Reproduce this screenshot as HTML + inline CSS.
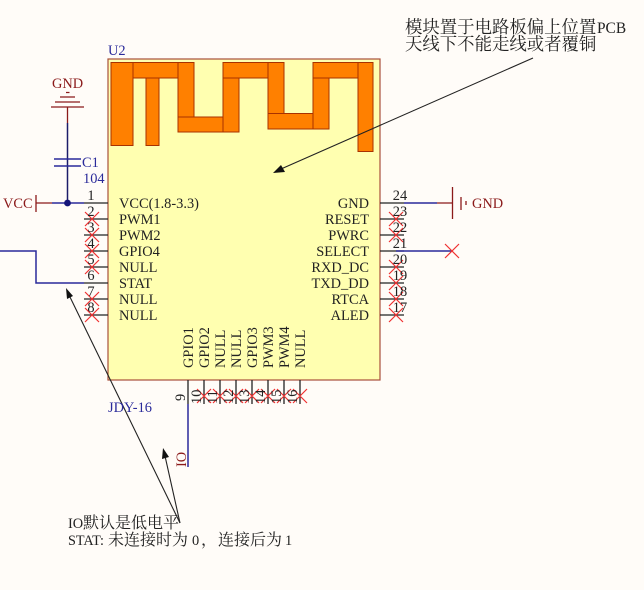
<!DOCTYPE html>
<html><head><meta charset="utf-8"><style>
html,body{margin:0;padding:0;background:#fffcf8}
svg{display:block}
text{font-family:"Liberation Serif","Noto Serif CJK SC",serif;font-size:14.4px;fill:#222}
.b{fill:#2a2a9a}.r{fill:#8b1a1a}
.a rect{fill:#ff8000;stroke:#a83200;stroke-width:1}
.p{stroke:#222;stroke-width:1.3}
.x{stroke:#f03030;stroke-width:1.2;fill:none}
</style></head><body>
<svg width="644" height="590" viewBox="0 0 644 590" xmlns="http://www.w3.org/2000/svg">
<rect width="644" height="590" fill="#fffcf8"/>
<rect x="108" y="59" width="272" height="321" fill="#ffffb0" stroke="#a8503c" stroke-width="1.2"/>
<g class="a">
<rect x="111" y="62.500" width="22" height="83"/>
<rect x="133" y="62.500" width="45" height="15.500"/>
<rect x="146" y="78" width="13" height="67.500"/>
<rect x="178" y="62.500" width="16" height="69.500"/>
<rect x="178" y="117" width="45" height="15"/>
<rect x="223" y="62.500" width="16" height="69.500"/>
<rect x="223" y="62.500" width="45" height="15.500"/>
<rect x="268" y="62.500" width="16" height="66.500"/>
<rect x="268" y="113.500" width="45" height="15.500"/>
<rect x="313" y="78" width="16" height="51"/>
<rect x="313" y="62.500" width="45" height="15.500"/>
<rect x="358" y="62.500" width="15" height="89"/>
</g>
<g class="p">
<path d="M84 203H108M84 219H108M84 235H108M84 251H108M84 267H108M84 283H108M84 299H108M84 315H108" fill="none"/>
<path d="M380 203H404M380 219H404M380 235H404M380 251H404M380 267H404M380 283H404M380 299H404M380 315H404" fill="none"/>
<path d="M188 380V404M204 380V404M220 380V404M236 380V404M252 380V404M268 380V404M284 380V404M300 380V404" fill="none"/>
</g>
<g fill="none" stroke="#2a2a9a" stroke-width="1.500">
<path d="M52 203H84"/>
<path d="M0 251H36V283H84"/>
<path d="M188 404V467"/>
<path d="M404 203H437"/>
<path d="M396 251H452"/>
</g>
<path d="M67.500 123V203" stroke="#1c1c6a" stroke-width="1.500" fill="none"/>
<path d="M67.500 107V123" stroke="#8b1a1a" stroke-width="1.300" fill="none"/>
<path d="M54 159H81M54 166H81" stroke="#2a2a9a" stroke-width="1.500" fill="none"/>
<circle cx="67.500" cy="203" r="3.400" fill="#14147a"/>
<g stroke="#8b1a1a" stroke-width="1.300" fill="none">
<path d="M51 107H84M55 102H80M60 97H75M66 92.500H69.500"/>
<path d="M36 195V212M36 203H52"/>
<path d="M437 203H452.500M452.500 187V219M461 197V210M466 201V205"/>
</g>
<g class="x">
<path d="M85 212l14 14M99 212l-14 14M85 228l14 14M99 228l-14 14M85 244l14 14M99 244l-14 14M85 260l14 14M99 260l-14 14M85 292l14 14M99 292l-14 14M85 308l14 14M99 308l-14 14"/>
<path d="M389 212l14 14M403 212l-14 14M389 228l14 14M403 228l-14 14M389 260l14 14M403 260l-14 14M389 276l14 14M403 276l-14 14M389 292l14 14M403 292l-14 14M389 308l14 14M403 308l-14 14"/>
<path d="M445 244l14 14M459 244l-14 14"/>
<path d="M197 389l14 14M211 389l-14 14M213 389l14 14M227 389l-14 14M229 389l14 14M243 389l-14 14M245 389l14 14M259 389l-14 14M261 389l14 14M275 389l-14 14M277 389l14 14M291 389l-14 14M293 389l14 14M307 389l-14 14"/>
</g>
<g stroke="#222" stroke-width="1.100" fill="none">
<path d="M180 523L69 295"/>
<path d="M180 523L165 456"/>
<path d="M533 58L281 169"/>
</g>
<polygon points="66,288 73,296 67,299" fill="#111"/>
<polygon points="163,448 169,457 162,459" fill="#111"/>
<polygon points="273,173 281,165 285,172" fill="#111"/>
<text x="108" y="55" class="b">U2</text>
<text x="52" y="88" class="r">GND</text>
<text x="82" y="167" class="b">C1</text>
<text x="83" y="183" class="b">104</text>
<text x="3" y="208" class="r">VCC</text>
<text x="472" y="208" class="r">GND</text>
<text x="108" y="412" class="b">JDY-16</text>
<g text-anchor="middle">
<text x="91" y="200">1</text><text x="91" y="216">2</text><text x="91" y="232">3</text><text x="91" y="248">4</text><text x="91" y="264">5</text><text x="91" y="280">6</text><text x="91" y="296">7</text><text x="91" y="312">8</text>
<text x="400" y="200">24</text><text x="400" y="216">23</text><text x="400" y="232">22</text><text x="400" y="248">21</text><text x="400" y="264">20</text><text x="400" y="280">19</text><text x="400" y="296">18</text><text x="400" y="312">17</text>
</g>
<text x="119" y="208">VCC(1.8-3.3)</text>
<text x="119" y="224">PWM1</text>
<text x="119" y="240">PWM2</text>
<text x="119" y="256">GPIO4</text>
<text x="119" y="272">NULL</text>
<text x="119" y="288">STAT</text>
<text x="119" y="304">NULL</text>
<text x="119" y="320">NULL</text>
<g text-anchor="end">
<text x="369" y="208">GND</text>
<text x="369" y="224">RESET</text>
<text x="369" y="240">PWRC</text>
<text x="369" y="256">SELECT</text>
<text x="369" y="272">RXD_DC</text>
<text x="369" y="288">TXD_DD</text>
<text x="369" y="304">RTCA</text>
<text x="369" y="320">ALED</text>
</g>
<g>
<text transform="translate(193,368) rotate(-90)">GPIO1</text>
<text transform="translate(209,368) rotate(-90)">GPIO2</text>
<text transform="translate(225,368) rotate(-90)">NULL</text>
<text transform="translate(241,368) rotate(-90)">NULL</text>
<text transform="translate(257,368) rotate(-90)">GPIO3</text>
<text transform="translate(273,368) rotate(-90)">PWM3</text>
<text transform="translate(289,368) rotate(-90)">PWM4</text>
<text transform="translate(305,368) rotate(-90)">NULL</text>
<text transform="translate(185,401) rotate(-90)">9</text>
<text transform="translate(201,404) rotate(-90)">10</text>
<text transform="translate(217,404) rotate(-90)">11</text>
<text transform="translate(233,404) rotate(-90)">12</text>
<text transform="translate(249,404) rotate(-90)">13</text>
<text transform="translate(265,404) rotate(-90)">14</text>
<text transform="translate(281,404) rotate(-90)">15</text>
<text transform="translate(297,404) rotate(-90)">16</text>
<text class="r" transform="translate(186,467) rotate(-90)">IO</text>
</g>
<text x="405" y="33" style="font-size:17.400px">模块置于电路板偏上位置<tspan x="597" style="font-size:15.400px">PCB</tspan></text>
<text x="405" y="50" style="font-size:17.400px">天线下不能走线或者覆铜</text>
<text x="68" y="528">IO<tspan x="83" style="font-size:16px">默认是低电平</tspan></text>
<text x="68" y="545" textLength="36" lengthAdjust="spacingAndGlyphs">STAT:</text>
<text y="545"><tspan x="108" style="font-size:16px">未连接时为</tspan><tspan x="192" style="font-size:14.400px">0</tspan><tspan x="201" style="font-size:16px">，</tspan><tspan x="218" style="font-size:16px">连接后为</tspan><tspan x="285" style="font-size:14.400px">1</tspan></text>
</svg>
</body></html>
